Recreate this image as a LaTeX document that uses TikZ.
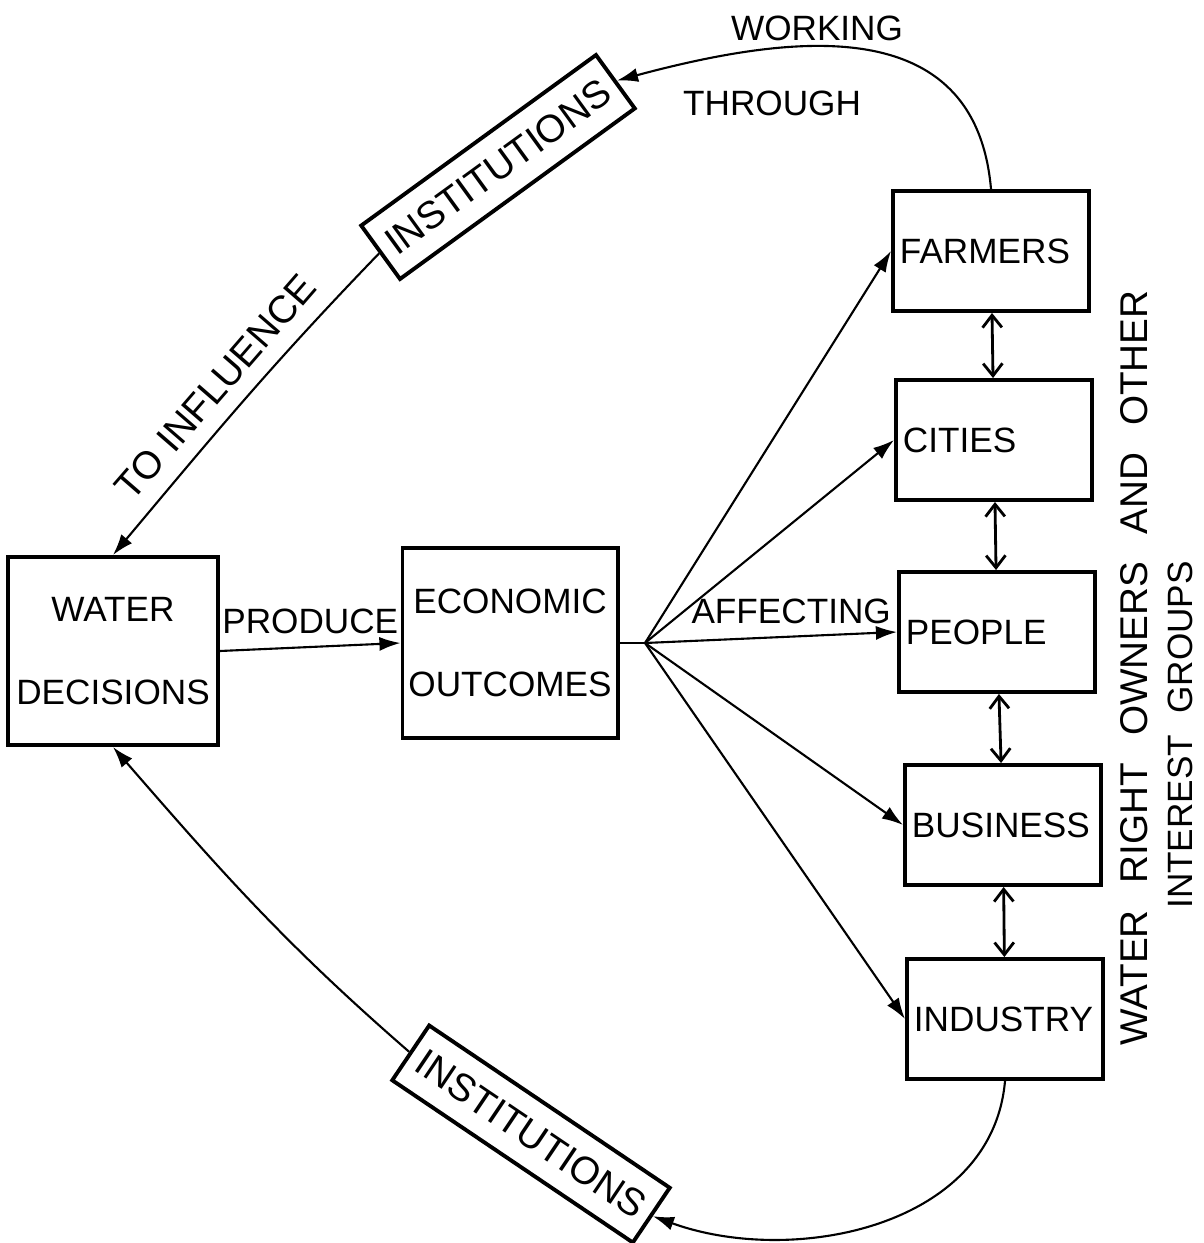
\documentclass[tikz,border=0pt]{standalone}
\usepackage{fontspec}
\setmainfont{Liberation Sans}
\usetikzlibrary{arrows.meta,positioning}

\begin{document}
\begin{tikzpicture}[x=0.01cm, y=0.01cm, font=\fontsize{10}{12}\selectfont,
  box/.style={draw, line width=1.1pt, inner sep=0pt},
  grp/.style={box, minimum width=1.96cm, minimum height=1.2cm, text width=1.82cm, align=left},
  inst/.style={box, minimum width=2.9cm, minimum height=0.66cm, font=\fontsize{11}{13}\selectfont},
  arr/.style={line width=0.6pt, -{Latex[length=6pt,width=4pt]}},
  dbl/.style={line width=0.8pt, {Straight Barb[length=3.5pt,width=5.5pt]}-{Straight Barb[length=3.5pt,width=5.5pt]}},
  side/.style={rotate=90}]
\useasboundingbox (0,0) rectangle (1204,-1243);
\node[box, minimum width=2.1cm, minimum height=1.88cm, align=center, font=\fontsize{10}{23.5}\selectfont] (water) at (113,-651) {WATER\\DECISIONS};
\node[box, minimum width=2.15cm, minimum height=1.9cm, align=center, font=\fontsize{10}{23.5}\selectfont] (econ) at (510,-643) {ECONOMIC\\OUTCOMES};
\foreach \n/\t/\x/\y in {farmers/FARMERS/991/251, cities/CITIES/994/440, people/PEOPLE/997/632, business/BUSINESS/1003/825, industry/INDUSTRY/1005/1019}{  \node[grp] (\n) at (\x,-\y) {\t};}
\node[inst, rotate=36] (inst1) at (498,-167) {INSTITUTIONS};
\node[inst, rotate=-34] (inst2) at (531,-1134) {INSTITUTIONS};
\node[side, font=\fontsize{11}{13}\selectfont] (owners) at (1134,-668) {\spaceskip=.7em\relax WATER RIGHT OWNERS AND OTHER};
\node[side] (groups) at (1180,-735) {\spaceskip=.6em\relax INTEREST GROUPS};
\node (working) at (817,-28) {WORKING};
\node (through) at (772,-103) {THROUGH};
\draw[arr] (water.east) -- node[midway, above] {PRODUCE} (econ.west);
\coordinate (fan) at (645,-643);
\draw[line width=0.6pt] (econ.east) -- (fan);
\foreach \n in {farmers, cities, business, industry}{  \draw[arr] (fan) -- (\n.west);}
\draw[arr] (fan) -- node[pos=0.58, above] {AFFECTING} (people.west);
\foreach \a/\b in {farmers/cities, cities/people, people/business, business/industry}{  \draw[dbl] (\a) -- (\b);}
\draw[arr] (farmers.north) to[out=95, in=15, looseness=1.18] (inst1.east);
\draw[arr] (inst1.west) to[out=226, in=50] node[pos=0.52, sloped, above=1pt, font=\fontsize{11}{13}\selectfont] {TO INFLUENCE} (water.north);
\draw[arr] (inst2.west) to[out=139, in=-49] (water.south);
\draw[arr] (industry.south) to[out=-95, in=-20] (inst2.east);
\end{tikzpicture}
\end{document}
